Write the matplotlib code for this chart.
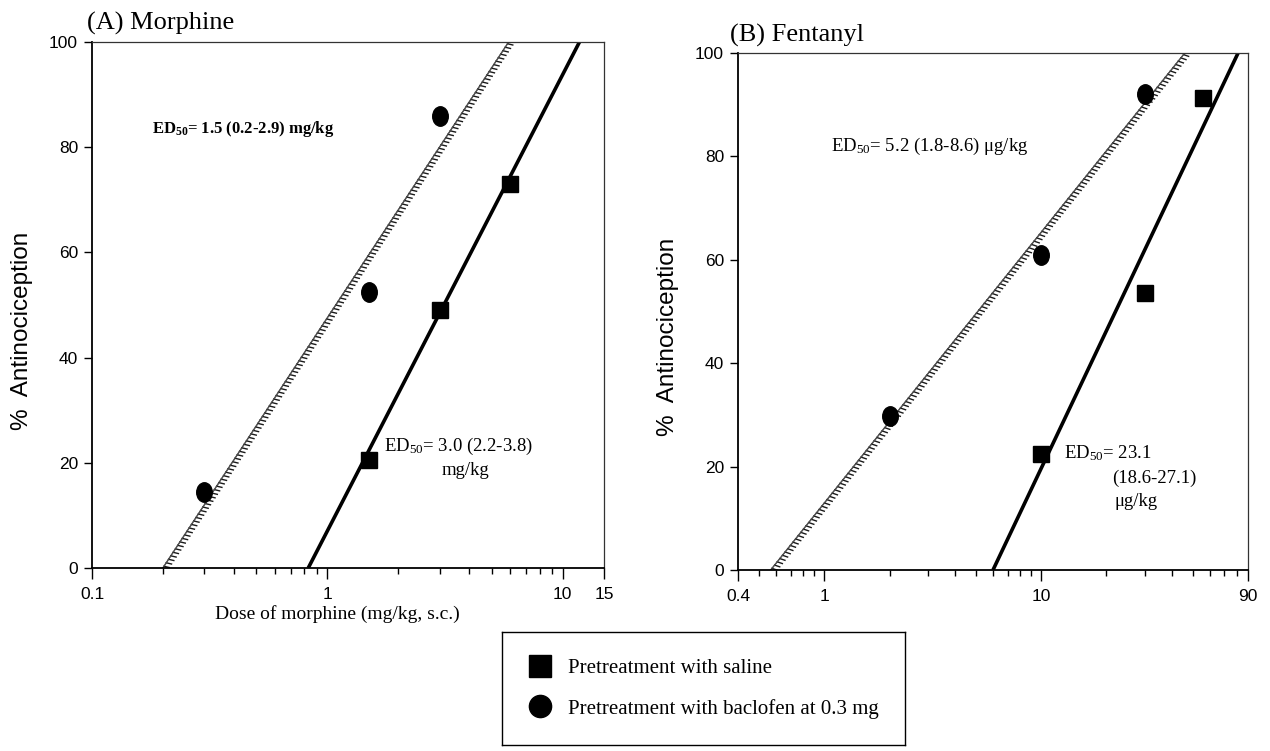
import numpy as np
import matplotlib
matplotlib.use("Agg")
import matplotlib.pyplot as plt
from matplotlib import patheffects
from matplotlib.lines import Line2D
from matplotlib.path import Path
from matplotlib.transforms import Affine2D
from matplotlib.ticker import FixedLocator, NullFormatter

plt.rcParams['font.family'] = ['Liberation Sans', 'DejaVu Sans']
plt.rcParams['mathtext.default'] = 'regular'

SERIF = ['Liberation Serif', 'DejaVu Serif']

# (A) Morphine
morph_saline_dose = [1.5, 3, 6]
morph_saline_pct = [20.5, 49, 73]
morph_baclo_dose = [0.3, 1.5, 3]
morph_baclo_pct = [14.5, 52.5, 86]
# fitted lines (dose at 0 % and at 100 %)
morph_saline_fit = [0.83, 11.8]
morph_baclo_fit = [0.2, 5.9]

# (B) Fentanyl
fent_saline_dose = [10, 30, 56]
fent_saline_pct = [22.5, 53.5, 91.3]
fent_baclo_dose = [2, 10, 30]
fent_baclo_pct = [29.8, 61, 92]
fent_saline_fit = [6.0, 81]
fent_baclo_fit = [0.566, 46]

fit_pct = [0, 100]

# slightly tall dots, like the scanned figure
oval = Path.unit_circle().transformed(Affine2D().scale(0.8, 1.0))

fig = plt.figure(figsize=(12.7, 7.51), dpi=100)
ax1 = fig.add_axes([92/1270, (751-568)/751, (604-92)/1270, (568-42)/751])
ax2 = fig.add_axes([738/1270, (751-570)/751, (1248-738)/1270, (570-53)/751])

hatch = [patheffects.Stroke(linewidth=1.0, foreground='#444444'),
         patheffects.withTickedStroke(spacing=3.0, angle=-70, length=1.3,
                                      linewidth=1.0, foreground='#1a1a1a')]


def draw(ax, sd, sp, bd, bp, sfit, bfit):
    ax.plot(sfit, fit_pct, color='k', lw=2.6, solid_capstyle='butt', zorder=2)
    ax.plot(bfit, fit_pct, color='#555555', lw=0.6, path_effects=hatch, zorder=2)
    ax.plot(sd, sp, 's', color='k', ms=12, zorder=3)
    ax.plot(bd, bp, ls='none', marker=oval, color='k', ms=14, zorder=3)
    ax.set_xscale('log')
    ax.set_ylim(0, 100)
    ax.set_yticks([0, 20, 40, 60, 80, 100])
    ax.set_ylabel('%  Antinociception', fontsize=17.5, va='center')
    ax.yaxis.set_label_coords(-0.137, 0.45)
    ax.tick_params(axis='y', which='major', direction='out', length=6,
                   width=1, labelsize=12.5, pad=4)
    ax.tick_params(axis='x', which='major', direction='out', length=8,
                   width=1, labelsize=12.5, pad=6)
    ax.tick_params(axis='x', which='minor', direction='out', length=4, width=1)
    ax.xaxis.set_minor_formatter(NullFormatter())
    for side in ['left', 'bottom']:
        ax.spines[side].set_linewidth(1.3)
    for side in ['top', 'right']:
        ax.spines[side].set_linewidth(0.9)
        ax.spines[side].set_color('#333333')


draw(ax1, morph_saline_dose, morph_saline_pct, morph_baclo_dose, morph_baclo_pct,
     morph_saline_fit, morph_baclo_fit)
ax1.set_xlim(0.1, 15)
ax1.xaxis.set_major_locator(FixedLocator([0.1, 1, 10, 15]))
ax1.set_xticklabels(['0.1', '1', '10', '15'])
ax1.xaxis.set_minor_locator(FixedLocator([0.2, 0.3, 0.4, 0.5, 0.6, 0.7, 0.8, 0.9,
                                          2, 3, 4, 5, 6, 7, 8, 9]))
ax1.set_xlabel('Dose of morphine (mg/kg, s.c.)', family=SERIF, fontsize=14, labelpad=2, x=0.48)
ax1.set_title('(A) Morphine', family=SERIF, fontsize=19, loc='left', x=-0.01, pad=9)
ax1.text(0.18, 83.5, r'ED$_{50}$= 1.5 (0.2-2.9) mg/kg', family=SERIF,
         fontweight='bold', fontsize=12, va='center')
ax1.text(1.74, 23.2, r'ED$_{50}$= 3.0 (2.2-3.8)', family=SERIF, fontsize=13.5, va='center')
ax1.text(3.85, 18.6, 'mg/kg', family=SERIF, fontsize=13.5, va='center', ha='center')

draw(ax2, fent_saline_dose, fent_saline_pct, fent_baclo_dose, fent_baclo_pct,
     fent_saline_fit, fent_baclo_fit)
ax2.set_xlim(0.4, 90)
ax2.xaxis.set_major_locator(FixedLocator([0.4, 1, 10, 90]))
ax2.set_xticklabels(['0.4', '1', '10', '90'])
ax2.xaxis.set_minor_locator(FixedLocator([0.5, 0.6, 0.7, 0.8, 0.9,
                                          2, 3, 4, 5, 6, 7, 8, 9,
                                          20, 30, 40, 50, 60, 70, 80]))
ax2.set_title('(B) Fentanyl', family=SERIF, fontsize=19, loc='left', x=-0.016, pad=8)
ax2.text(1.07, 82, r'ED$_{50}$= 5.2 (1.8-8.6) μg/kg', family=SERIF, fontsize=13.5, va='center')
ax2.text(12.7, 22.6, r'ED$_{50}$= 23.1', family=SERIF, fontsize=13.5, va='center')
ax2.text(21.2, 17.8, '(18.6-27.1)', family=SERIF, fontsize=13.5, va='center')
ax2.text(27.5, 13.2, 'μg/kg', family=SERIF, fontsize=13.5, va='center', ha='center')

# legend in its own framed box
lax = fig.add_axes([502/1270, (751-745)/751, (905-502)/1270, (745-632)/751])
lax.set_xticks([])
lax.set_yticks([])
for s in lax.spines.values():
    s.set_linewidth(1.0)
handles = [Line2D([], [], ls='none', marker='s', color='k', ms=16),
           Line2D([], [], ls='none', marker='o', color='k', ms=16)]
lax.legend(handles, ['Pretreatment with saline', 'Pretreatment with baclofen at 0.3 mg'],
           loc='center left', prop={'family': SERIF, 'size': 15}, frameon=False,
           borderpad=0.4, borderaxespad=0.4, labelspacing=1.0,
           handlelength=2.0, handletextpad=0.35)

fig.savefig('out.png', dpi=100)
